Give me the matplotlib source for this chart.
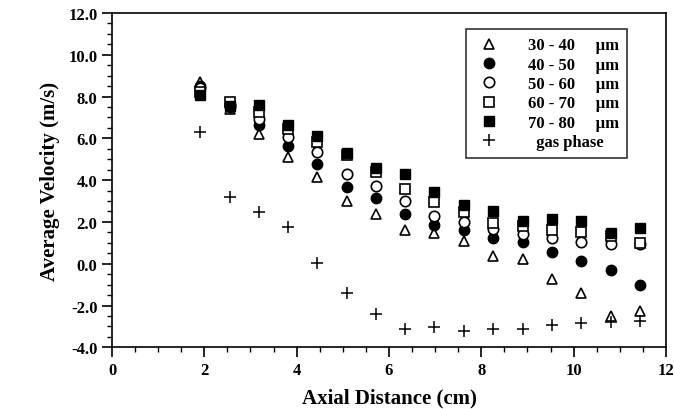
import matplotlib
matplotlib.use("Agg")
import matplotlib.pyplot as plt
from matplotlib.ticker import MultipleLocator, FormatStrFormatter

plt.rcParams['font.family'] = ['Liberation Serif', 'DejaVu Serif']
plt.rcParams['font.weight'] = 'bold'

# axial positions (cm)
x = [1.90, 2.55, 3.18, 3.82, 4.45, 5.08, 5.72, 6.35,
     6.98, 7.62, 8.26, 8.90, 9.53, 10.16, 10.80, 11.43]

# average velocities (m/s) by droplet size class
v_30_40 = [8.70, 7.40, 6.21, 5.09, 4.14, 3.02, 2.38, 1.63,
           1.47, 1.11, 0.39, 0.23, -0.73, -1.40, -2.52, -2.28]
v_40_50 = [8.50, 7.50, 6.66, 5.65, 4.77, 3.66, 3.13, 2.38,
           1.86, 1.63, 1.22, 1.03, 0.55, 0.15, -0.28, -1.02]
v_50_60 = [8.40, 7.60, 6.93, 6.05, 5.33, 4.30, 3.74, 2.99,
           2.30, 2.01, 1.66, 1.42, 1.22, 1.03, 0.95, 0.95]
v_60_70 = [8.20, 7.72, 7.25, 6.45, 5.81, 5.20, 4.38, 3.58,
           2.94, 2.46, 1.95, 1.82, 1.62, 1.50, 1.31, 1.00]
v_70_80 = [8.09, 7.53, 7.61, 6.64, 6.13, 5.28, 4.57, 4.30,
           3.42, 2.81, 2.51, 2.06, 2.14, 2.06, 1.47, 1.70]
v_gas = [6.32, 3.21, 2.46, 1.78, 0.02, -1.40, -2.40, -3.12,
         -3.04, -3.20, -3.12, -3.12, -2.93, -2.85, -2.80, -2.72]

fig = plt.figure(figsize=(6.74, 4.10), dpi=100)
ax = fig.add_axes([0.1662, 0.1505, 0.8218, 0.8154])

ms = 7.5
ax.plot(x, v_30_40, linestyle='none', marker='^', ms=ms, mfc='white', mec='black', mew=1.2,
        label='30 - 40     μm')
ax.plot(x, v_40_50, linestyle='none', marker='o', ms=ms, mfc='black', mec='black',
        label='40 - 50     μm')
ax.plot(x, v_50_60, linestyle='none', marker='o', ms=ms, mfc='white', mec='black', mew=1.2,
        label='50 - 60     μm')
ax.plot(x, v_60_70, linestyle='none', marker='s', ms=ms, mfc='white', mec='black', mew=1.2,
        label='60 - 70     μm')
ax.plot(x, v_70_80, linestyle='none', marker='s', ms=ms, mfc='black', mec='black',
        label='70 - 80     μm')
ax.plot(x, v_gas, linestyle='none', marker='+', ms=8, mec='black', mew=1.1,
        label='  gas phase')

ax.set_xlim(0, 12)
ax.set_ylim(-4, 12)
ax.xaxis.set_major_locator(MultipleLocator(2))
ax.xaxis.set_minor_locator(MultipleLocator(0.5))
ax.yaxis.set_major_locator(MultipleLocator(2))
ax.yaxis.set_minor_locator(MultipleLocator(0.5))
ax.yaxis.set_major_formatter(FormatStrFormatter('%.1f'))
ax.tick_params(which='major', direction='out', length=7, width=1.2, labelsize=12)
ax.tick_params(which='minor', direction='out', length=3.5, width=1.0)
for s in ax.spines.values():
    s.set_linewidth(1.2)

ax.set_xlabel('Axial Distance (cm)', fontsize=15, fontweight='bold', labelpad=7)
ax.set_ylabel('Average Velocity (m/s)', fontsize=15, fontweight='bold', labelpad=6)

leg = ax.legend(loc='upper right', bbox_to_anchor=(0.93, 0.952), borderaxespad=0,
                fontsize=12, frameon=True, fancybox=False, edgecolor='black',
                handletextpad=1.4, labelspacing=0.2, borderpad=0.5, handlelength=1.8)
leg.get_frame().set_linewidth(1.2)

fig.savefig('out.png', dpi=100)
